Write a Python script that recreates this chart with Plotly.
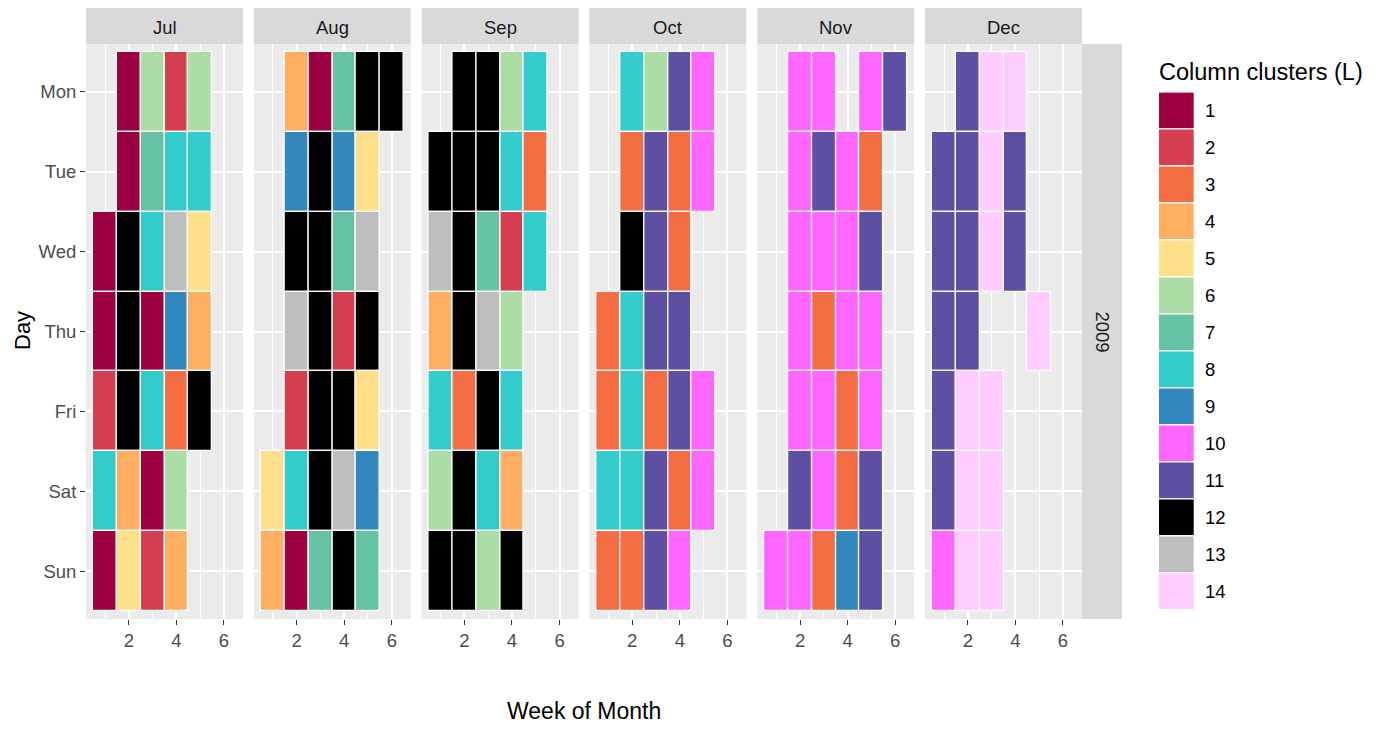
import plotly.graph_objects as go

# ---------------- data ----------------
months = ["Jul", "Aug", "Sep", "Oct", "Nov", "Dec"]
year_label = "2009"
days = ["Mon", "Tue", "Wed", "Thu", "Fri", "Sat", "Sun"]
weeks = [1, 2, 3, 4, 5, 6]
clusters = list(range(1, 15))
cluster_colors = ["#9E0142", "#D53E4F", "#F46D43", "#FDAE61", "#FEE08B", "#ABDDA4",
                  "#66C2A5", "#33CCCC", "#3288BD", "#FF66FF", "#5E4FA2", "#000000",
                  "#BEBEBE", "#FFCCFF"]

N = None
# rows = Mon..Sun, columns = week of month 1..6 (cluster id, None = no data)
jul = [
    [N, 1, 6, 2, 6, N],
    [N, 1, 7, 8, 8, N],
    [1, 12, 8, 13, 5, N],
    [1, 12, 1, 9, 4, N],
    [2, 12, 8, 3, 12, N],
    [8, 4, 1, 6, N, N],
    [1, 5, 2, 4, N, N],
]
aug = [
    [N, 4, 1, 7, 12, 12],
    [N, 9, 12, 9, 5, N],
    [N, 12, 12, 7, 13, N],
    [N, 13, 12, 2, 12, N],
    [N, 2, 12, 12, 5, N],
    [5, 8, 12, 13, 9, N],
    [4, 1, 7, 12, 7, N],
]
sep = [
    [N, 12, 12, 6, 8, N],
    [12, 12, 12, 8, 3, N],
    [13, 12, 7, 2, 8, N],
    [4, 12, 13, 6, N, N],
    [8, 3, 12, 8, N, N],
    [6, 12, 8, 4, N, N],
    [12, 12, 6, 12, N, N],
]
oct_ = [
    [N, 8, 6, 11, 10, N],
    [N, 3, 11, 3, 10, N],
    [N, 12, 11, 3, N, N],
    [3, 8, 11, 11, N, N],
    [3, 8, 3, 11, 10, N],
    [8, 8, 11, 3, 10, N],
    [3, 3, 11, 10, N, N],
]
nov = [
    [N, 10, 10, N, 10, 11],
    [N, 10, 11, 10, 3, N],
    [N, 10, 10, 10, 11, N],
    [N, 10, 3, 10, 10, N],
    [N, 10, 10, 3, 10, N],
    [N, 11, 10, 3, 11, N],
    [10, 10, 3, 9, 11, N],
]
dec = [
    [N, 11, 14, 14, N, N],
    [11, 11, 14, 11, N, N],
    [11, 11, 14, 11, N, N],
    [11, 11, N, N, 14, N],
    [11, 14, 14, N, N, N],
    [11, 14, 14, N, N, N],
    [10, 14, 14, N, N, N],
]
month_data = [jul, aug, sep, oct_, nov, dec]

# ---------------- layout geometry (screen px) ----------------
OFF = 8                      # page body margin
W, H = 1385 - 2 * OFF, 734 - 2 * OFF
P_LEFT0, P_W, P_GAP = 86, 157, 10.8
P_TOP, P_BOT = 44, 619
STRIP_TOP = 6
RSTRIP_R = 1122
FONT = "Liberation Sans, Arial, sans-serif"
PANEL_BG = "#EBEBEB"
STRIP_BG = "#D9D9D9"
TICK_SIZE = 18.5
TITLE_SIZE = 23

def fx(px):
    return (px - OFF) / W

def fy(py):
    return 1 - (py - OFF) / H

fig = go.Figure()
shapes = []
annotations = []

for i, (m, grid) in enumerate(zip(months, month_data)):
    xs, bases, cols, texts = [], [], [], []
    for d_idx, row in enumerate(grid):
        for w_idx, c in enumerate(row):
            if c is None:
                continue
            xs.append(weeks[w_idx])
            bases.append(d_idx + 1 - 0.5)
            cols.append(cluster_colors[c - 1])
            texts.append(f"{m} {days[d_idx]}, week {weeks[w_idx]}: cluster {c}")
    ax = "" if i == 0 else str(i + 1)
    fig.add_trace(go.Bar(
        x=xs, y=[1] * len(xs), base=bases, width=1,
        marker=dict(color=cols, line=dict(color="white", width=1.3)),
        hovertext=texts, hoverinfo="text", showlegend=False,
        xaxis="x" + ax, yaxis="y" + ax,
    ))
    left = P_LEFT0 + i * (P_W + P_GAP)
    right = left + P_W
    fig.update_layout(**{
        "xaxis" + ax: dict(
            domain=[fx(left), fx(right)], range=[0.2, 6.8], anchor="y" + ax,
            tickmode="array", tickvals=[2, 4, 6], ticktext=["2", "4", "6"],
            ticks="outside", ticklen=5, tickwidth=1.2, tickcolor="#333333",
            tickfont=dict(family=FONT, size=TICK_SIZE, color="#4D4D4D"),
            showgrid=True, gridcolor="white", gridwidth=2,
            minor=dict(tickvals=[1, 3, 5], showgrid=True, gridcolor="white", gridwidth=1, ticks=""),
            zeroline=False, showline=False, fixedrange=True,
        ),
        "yaxis" + ax: dict(
            domain=[fy(P_BOT), fy(P_TOP)], range=[7.6, 0.4], anchor="x" + ax,
            tickmode="array", tickvals=list(range(1, 8)), ticktext=days,
            showticklabels=(i == 0), ticks="outside" if i == 0 else "",
            ticklen=5, tickwidth=1.2, tickcolor="#333333",
            tickfont=dict(family=FONT, size=TICK_SIZE, color="#4D4D4D"),
            showgrid=True, gridcolor="white", gridwidth=2,
            zeroline=False, showline=False, fixedrange=True,
        ),
    })
    # panel background
    shapes.append(dict(type="rect", xref="paper", yref="paper", layer="below",
                       x0=fx(left), x1=fx(right), y0=fy(P_BOT), y1=fy(P_TOP),
                       fillcolor=PANEL_BG, line=dict(width=0)))
    # strip
    shapes.append(dict(type="rect", xref="paper", yref="paper", layer="below",
                       x0=fx(left), x1=fx(right), y0=fy(P_TOP), y1=fy(STRIP_TOP),
                       fillcolor=STRIP_BG, line=dict(width=0)))
    annotations.append(dict(text=m, xref="paper", yref="paper",
                            x=fx((left + right) / 2), y=fy((STRIP_TOP + P_TOP) / 2 + 2.5),
                            xanchor="center", yanchor="middle", showarrow=False,
                            font=dict(family=FONT, size=TICK_SIZE, color="#1A1A1A")))

last_right = P_LEFT0 + 5 * (P_W + P_GAP) + P_W
shapes.append(dict(type="rect", xref="paper", yref="paper", layer="below",
                   x0=fx(last_right), x1=fx(RSTRIP_R), y0=fy(P_BOT), y1=fy(P_TOP),
                   fillcolor=STRIP_BG, line=dict(width=0)))
annotations.append(dict(text=year_label, xref="paper", yref="paper",
                        x=fx((last_right + RSTRIP_R) / 2), y=fy((P_TOP + P_BOT) / 2),
                        xanchor="center", yanchor="middle", showarrow=False, textangle=90,
                        font=dict(family=FONT, size=TICK_SIZE, color="#1A1A1A")))

# axis titles
annotations.append(dict(text="Day", xref="paper", yref="paper", x=fx(22), y=fy(331),
                        xanchor="center", yanchor="middle", showarrow=False, textangle=-90,
                        font=dict(family=FONT, size=TITLE_SIZE - 1, color="black")))
annotations.append(dict(text="Week of Month", xref="paper", yref="paper",
                        x=fx((P_LEFT0 + last_right) / 2), y=0,
                        xanchor="center", yanchor="bottom", showarrow=False,
                        font=dict(family=FONT, size=TITLE_SIZE, color="black")))

# ---------------- legend (as its own small axis) ----------------
L_X0, L_X1 = 1159, 1195
L_TOP, L_BOT = 92.5, 610.5
fig.add_trace(go.Bar(
    x=[1] * len(clusters), y=[1] * len(clusters), base=[c - 0.5 for c in clusters], width=1,
    marker=dict(color=cluster_colors, line=dict(color="white", width=1.3)),
    hoverinfo="skip", showlegend=False, xaxis="x7", yaxis="y7",
))
fig.update_layout(
    xaxis7=dict(domain=[fx(L_X0), fx(L_X1)], range=[0.5, 1.5], anchor="y7",
                visible=False, fixedrange=True),
    yaxis7=dict(domain=[fy(L_BOT), fy(L_TOP)], range=[14.5, 0.5], anchor="x7",
                side="right", tickmode="array", tickvals=clusters,
                ticktext=[str(c) for c in clusters], ticks="", ticklabelstandoff=9,
                tickfont=dict(family=FONT, size=TICK_SIZE, color="black"),
                showgrid=False, zeroline=False, showline=False, fixedrange=True),
)
annotations.append(dict(text="Column clusters (L)", xref="paper", yref="paper",
                        x=fx(L_X0 - 2), y=fy(72), xanchor="left", yanchor="middle",
                        showarrow=False, font=dict(family=FONT, size=23.5, color="black")))

fig.update_layout(
    width=W, height=H, autosize=False,
    margin=dict(l=0, r=0, t=0, b=0),
    paper_bgcolor="white", plot_bgcolor="rgba(0,0,0,0)",
    barmode="overlay", bargap=0,
    shapes=shapes, annotations=annotations,
    font=dict(family=FONT),
)

fig.write_html("out.html")
